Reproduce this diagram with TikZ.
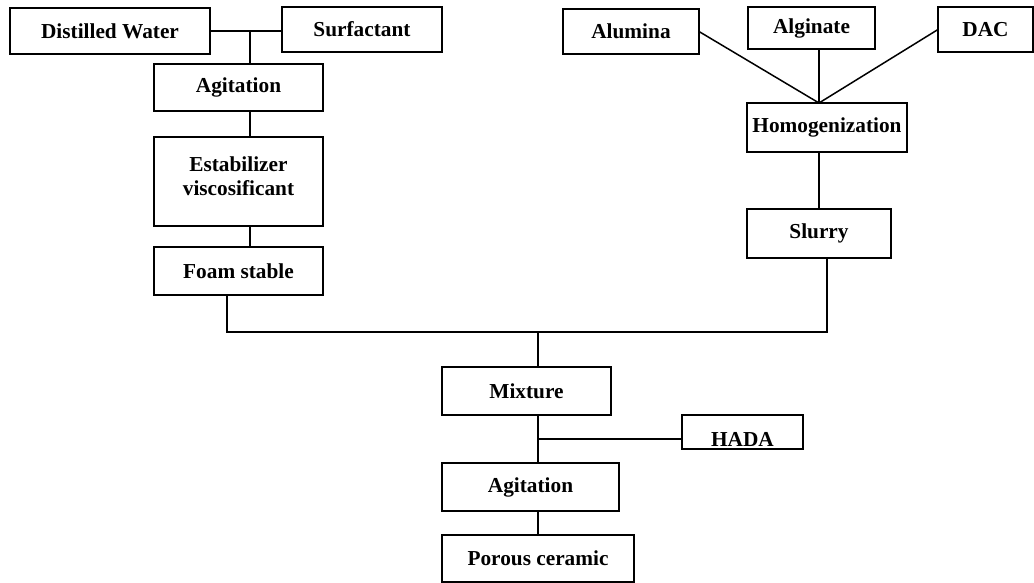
\documentclass[tikz,border=0pt]{standalone}
\usepackage{fontspec}
\setmainfont{Liberation Serif}
\usepackage{tikz}
\usetikzlibrary{calc}

\tikzset{
  box/.style={draw, line width=1.5pt, inner sep=1pt, outer sep=0pt,
    font=\fontsize{21.3}{24}\selectfont\bfseries, align=center},
  link/.style={line width=1.5pt}
}

\begin{document}
\begin{tikzpicture}[x=1pt, y=-1pt]
  \useasboundingbox (0,0) rectangle (1034,583);
  % --- Foam branch (left) ---
  \node[box, minimum width=200, minimum height=46] (water) at (110,31) {Distilled Water};
  \node[box, minimum width=160, minimum height=45] (surf) at (362,29.5) {Surfactant};
  \node[box, minimum width=169, minimum height=47] (agit1) at (238.5,87.5) {Agitation};
  \node[box, minimum width=169, minimum height=89, text depth=10pt] (estab) at (238.5,181.5) {Estabilizer\\viscosificant};
  \node[box, minimum width=169, minimum height=48] (foam) at (238.5,271) {Foam stable};
  % --- Slurry branch (right) ---
  \node[box, minimum width=136, minimum height=45] (alum) at (631,31.5) {Alumina};
  \node[box, minimum width=127, minimum height=42] (algin) at (811.5,28) {Alginate};
  \node[box, minimum width=95, minimum height=45] (dac) at (985.5,29.5) {DAC};
  \node[box, minimum width=160, minimum height=49] (homog) at (827,127.5) {Homogenization};
  \node[box, minimum width=144, minimum height=49] (slurry) at (819,233.5) {Slurry};
  % --- Final stages ---
  \node[box, minimum width=169, minimum height=48] (mix) at (526.5,391) {Mixture};
  \node[box, minimum width=121, minimum height=34, text height=30pt, text depth=2pt] (hada) at (742.5,432) {HADA};
  \node[box, minimum width=177, minimum height=48] (agit2) at (530.5,487) {Agitation};
  \node[box, minimum width=192, minimum height=47] (porous) at (538,558.5) {Porous ceramic};
  % --- Junction points ---
  \coordinate (jfoam) at (250,31);
  \coordinate (jhom) at (819,103);
  \coordinate (jleft) at (227,332);
  \coordinate (jmid) at (538,332);
  \coordinate (jright) at (827,332);
  \coordinate (jhada) at (538,439);
  % --- Connectors ---
  \draw[link] (water.east |- jfoam) -- (surf.west |- jfoam);
  \draw[link] (jfoam) -- (jfoam |- agit1.north);
  \draw[link] (jfoam |- agit1.south) -- (jfoam |- estab.north);
  \draw[link] (jfoam |- estab.south) -- (jfoam |- foam.north);
  \draw[link] (alum.east) -- (jhom);
  \draw[link] (algin.south -| jhom) -- (jhom);
  \draw[link] (dac.west) -- (jhom);
  \draw[link] (jhom |- homog.south) -- (jhom |- slurry.north);
  \draw[link] (jleft |- foam.south) -- (jleft) -- (jright) -- (jright |- slurry.south);
  \draw[link] (jmid) -- (jmid |- mix.north);
  \draw[link] (jmid |- mix.south) -- (jmid |- agit2.north);
  \draw[link] (jhada) -- (hada.west |- jhada);
  \draw[link] (jmid |- agit2.south) -- (jmid |- porous.north);
\end{tikzpicture}
\end{document}
